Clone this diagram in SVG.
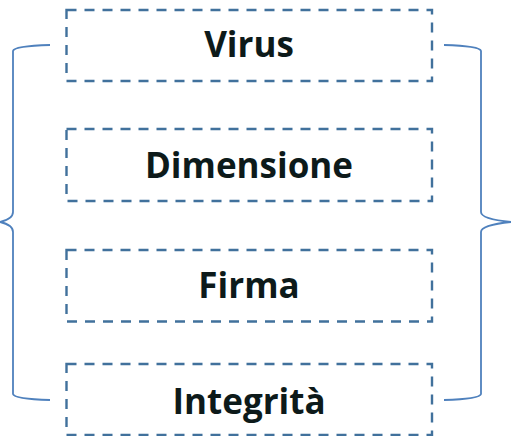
<svg xmlns="http://www.w3.org/2000/svg" width="511" height="436" viewBox="0 0 511 436">
<style>
.box{fill:#fff;stroke:#41719C;stroke-width:2.4;stroke-dasharray:10 8}
.lbl{font-family:"Open Sans","Liberation Sans",sans-serif;font-weight:bold;font-size:35px;fill:#0d1a1a;text-anchor:middle}
.br{fill:none;stroke:#4F81BD;stroke-width:1.8}
</style>
<rect width="511" height="436" fill="#fff"/>
<g id="connectors">
<path class="br" d="M50,45 Q14,46 13,51 L13,212 Q13,219 0,222 Q13,225 13,232 L13,394 Q14,399 50,400"/>
<path class="br" d="M444,45 Q480,46 481,51 L481,212 Q481,219 511,222 Q481,225 481,232 L481,394 Q480,399 444,400"/>
</g>
<g id="virus"><rect class="box" x="66.5" y="10" width="365.5" height="71"/><text class="lbl" x="249" y="57">Virus</text></g>
<g id="dimensione"><rect class="box" x="66.5" y="129" width="365.5" height="72"/><text class="lbl" x="249" y="178">Dimensione</text></g>
<g id="firma"><rect class="box" x="66.5" y="250" width="365.5" height="71.5"/><text class="lbl" x="249" y="298">Firma</text></g>
<g id="integrita"><rect class="box" x="66.5" y="364" width="365.5" height="71"/><text class="lbl" x="249" y="414">Integrità</text></g>
</svg>
